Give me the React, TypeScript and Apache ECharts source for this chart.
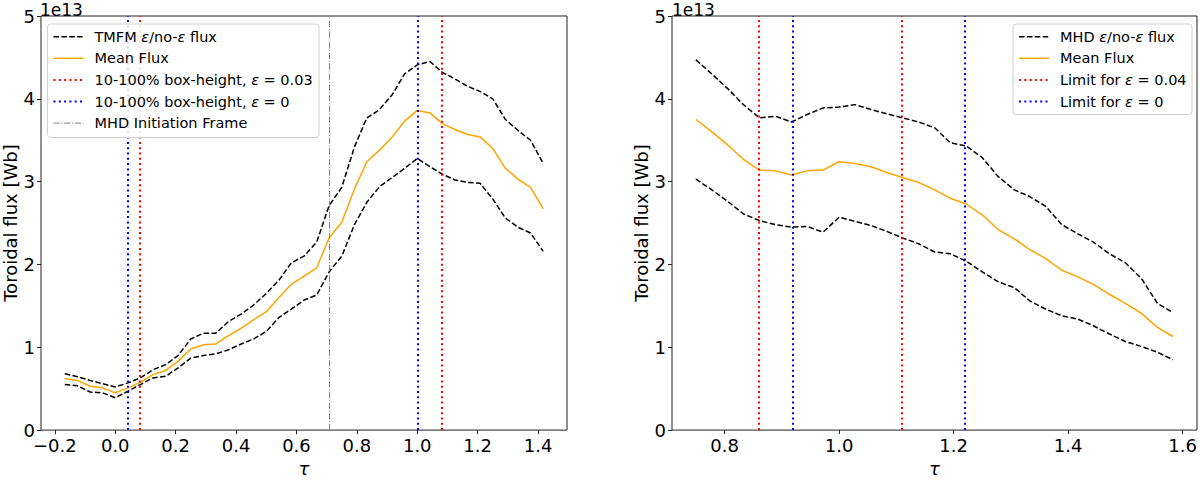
import React, { useEffect, useRef } from "react";
import * as echarts from "echarts";

// ---------- data (flux in units of 1e13 Wb) ----------
const tauLeft = [
  -0.167, -0.125, -0.083, -0.042, 0.0, 0.042, 0.083, 0.125, 0.167, 0.208, 0.25, 0.292, 0.333,
  0.375, 0.417, 0.458, 0.5, 0.542, 0.583, 0.625, 0.667, 0.708, 0.75, 0.792, 0.833, 0.875,
  0.917, 0.958, 1.0, 1.042, 1.083, 1.125, 1.167, 1.208, 1.25, 1.292, 1.333, 1.375, 1.417,
];
const upperLeft = [
  0.68, 0.645, 0.6, 0.56, 0.52, 0.57, 0.63, 0.73, 0.79, 0.9, 1.1, 1.17, 1.17, 1.31, 1.4, 1.51,
  1.65, 1.81, 2.02, 2.1, 2.27, 2.71, 2.93, 3.42, 3.77, 3.87, 4.05, 4.3, 4.41, 4.45, 4.32, 4.24,
  4.15, 4.09, 4.0, 3.75, 3.62, 3.5, 3.22,
];
const meanLeft = [
  0.62, 0.6, 0.53, 0.51, 0.45, 0.51, 0.58, 0.67, 0.72, 0.83, 0.98, 1.03, 1.04, 1.14, 1.23, 1.33,
  1.43, 1.6, 1.76, 1.86, 1.96, 2.32, 2.51, 2.91, 3.24, 3.38, 3.54, 3.73, 3.86, 3.83, 3.7, 3.63,
  3.57, 3.54, 3.4, 3.16, 3.03, 2.93, 2.67,
];
const lowerLeft = [
  0.55, 0.535, 0.46, 0.45, 0.39, 0.47, 0.55, 0.63, 0.65, 0.75, 0.87, 0.9, 0.92, 0.97, 1.04, 1.1,
  1.19, 1.36, 1.46, 1.57, 1.63, 1.91, 2.1, 2.48, 2.75, 2.94, 3.05, 3.16, 3.28, 3.18, 3.09, 3.02,
  2.99, 2.98, 2.79, 2.56, 2.45, 2.38, 2.16,
];

const tauRight = [
  0.75, 0.778, 0.806, 0.833, 0.861, 0.889, 0.917, 0.944, 0.972, 1.0, 1.028, 1.056, 1.083, 1.111,
  1.139, 1.167, 1.194, 1.222, 1.25, 1.278, 1.306, 1.333, 1.361, 1.389, 1.417, 1.444, 1.472, 1.5,
  1.528, 1.556, 1.583,
];
const upperRight = [
  4.47, 4.3, 4.12, 3.93, 3.77, 3.79, 3.72, 3.81, 3.89, 3.9, 3.93, 3.87, 3.82, 3.77, 3.72, 3.65,
  3.47, 3.43, 3.29, 3.06, 2.9, 2.82, 2.7, 2.48, 2.37, 2.27, 2.13, 2.02, 1.83, 1.53, 1.42,
];
const meanRight = [
  3.75, 3.6, 3.44, 3.27, 3.14, 3.13, 3.08, 3.13, 3.14, 3.24, 3.22, 3.18, 3.11, 3.05, 2.99, 2.9,
  2.8, 2.73, 2.6, 2.42, 2.31, 2.18, 2.07, 1.93, 1.85, 1.76, 1.64, 1.53, 1.41, 1.24, 1.13,
];
const lowerRight = [
  3.03, 2.9, 2.76, 2.61, 2.53, 2.48, 2.45, 2.46, 2.39, 2.57, 2.52, 2.47, 2.4, 2.32, 2.25, 2.15,
  2.13, 2.04, 1.91, 1.79, 1.72, 1.56, 1.46, 1.38, 1.34, 1.26, 1.16, 1.07, 1.01, 0.94, 0.85,
];

// vertical markers
const leftRedLimits = [0.0833, 1.0833];
const leftBlueLimits = [0.0417, 1.0];
const mhdInitiation = [0.7083];
const rightRedLimits = [0.8611, 1.1111];
const rightBlueLimits = [0.9167, 1.2222];

// ticks
const xTicksLeft = [-0.2, 0.0, 0.2, 0.4, 0.6, 0.8, 1.0, 1.2, 1.4];
const xTicksRight = [0.8, 1.0, 1.2, 1.4, 1.6];
const yTicks = [0, 1, 2, 3, 4, 5];

// ---------- styling ----------
const FONT = "DejaVu Sans";
const TICK_FS = 18;
const LEG_FS = 14.5;
const RED = "#ff0000";
const BLUE = "#0000ff";
const GRAY = "#808080";
const ORANGE = "#ffa500";
const DASH = [5.5, 2.4];
const DOT = [2, 3.3];
const DASHDOT = [6.4, 1.6, 1, 1.6];

const pts = (t: number[], v: number[]) => t.map((x, i) => [x, v[i]]);

const xAxisBase = (gridIndex: number, min: number, max: number, ticks: number[]) => ({
  type: "value",
  gridIndex,
  min,
  max,
  name: "τ",
  nameLocation: "middle",
  nameGap: 25,
  nameTextStyle: { fontFamily: FONT, fontSize: TICK_FS, fontStyle: "italic", color: "#000" },
  axisLine: { show: false, onZero: false },
  splitLine: { show: false },
  axisTick: {
    show: true,
    length: 4,
    customValues: ticks,
    lineStyle: { color: "#222", width: 1 },
  },
  axisLabel: {
    customValues: ticks,
    margin: 6,
    fontFamily: FONT,
    fontSize: TICK_FS,
    color: "#000",
    formatter: (v: number) => v.toFixed(1).replace("-", "\u2212"),
  },
});

const yAxisBase = (gridIndex: number) => ({
  type: "value",
  gridIndex,
  min: 0,
  max: 5,
  name: "Toroidal flux [Wb]",
  nameLocation: "middle",
  nameGap: 22,
  nameTextStyle: { fontFamily: FONT, fontSize: TICK_FS, color: "#000" },
  axisLine: { show: false, onZero: false },
  splitLine: { show: false },
  axisTick: { show: true, length: 4, customValues: yTicks, lineStyle: { color: "#222", width: 1 } },
  axisLabel: {
    customValues: yTicks,
    margin: 6,
    fontFamily: FONT,
    fontSize: TICK_FS,
    color: "#000",
    formatter: (v: number) => String(Math.round(v)),
  },
});

const lineSeries = (
  axis: number,
  data: number[][],
  color: string,
  type: any,
  markLines?: any[]
) => ({
  type: "line",
  xAxisIndex: axis,
  yAxisIndex: axis,
  data,
  symbol: "none",
  silent: true,
  lineStyle: { color, width: 1.5, type },
  markLine: markLines
    ? {
        silent: true,
        symbol: ["none", "none"],
        label: { show: false },
        data: markLines,
      }
    : undefined,
});

const vline = (x: number, color: string, dash: number[], width: number) => ({
  xAxis: x,
  lineStyle: { color, type: dash, width },
});

// ---------- legend (drawn with graphic) ----------
type Row = { color: string; dash: number[] | null; width: number; text: string };

const makeLegend = (x: number, y: number, w: number, h: number, rowY0: number, rowGap: number, rows: Row[]) => {
  const els: any[] = [
    {
      type: "rect",
      z: 100,
      shape: { x, y, width: w, height: h, r: 3 },
      style: { fill: "rgba(255,255,255,0.85)", stroke: "#d0d0d0", lineWidth: 1 },
    },
  ];
  rows.forEach((r, i) => {
    const cy = rowY0 + i * rowGap;
    els.push({
      type: "line",
      z: 101,
      shape: { x1: x + 6, y1: cy, x2: x + 36, y2: cy },
      style: { stroke: r.color, lineWidth: r.width, lineDash: r.dash || undefined },
    });
    els.push({
      type: "text",
      z: 101,
      style: {
        text: r.text,
        x: x + 47,
        y: cy,
        fill: "#000",
        fontSize: LEG_FS,
        fontFamily: FONT,
        verticalAlign: "middle",
        rich: {
          i: { fontStyle: "italic", fontSize: LEG_FS, fontFamily: FONT, fill: "#000" },
        },
      },
    });
  });
  return els;
};

const leftLegendRows: Row[] = [
  { color: "#000", dash: DASH, width: 1.5, text: "TMFM {i|ε}/no-{i|ε} flux" },
  { color: ORANGE, dash: null, width: 1.5, text: "Mean Flux" },
  { color: RED, dash: DOT, width: 2, text: "10-100% box-height, {i|ε} = 0.03" },
  { color: BLUE, dash: DOT, width: 2, text: "10-100% box-height, {i|ε} = 0" },
  { color: GRAY, dash: DASHDOT, width: 1, text: "MHD Initiation Frame" },
];
const rightLegendRows: Row[] = [
  { color: "#000", dash: DASH, width: 1.5, text: "MHD {i|ε}/no-{i|ε} flux" },
  { color: ORANGE, dash: null, width: 1.5, text: "Mean Flux" },
  { color: RED, dash: DOT, width: 2, text: "Limit for {i|ε} = 0.04" },
  { color: BLUE, dash: DOT, width: 2, text: "Limit for {i|ε} = 0" },
];

const option: any = {
  animation: false,
  textStyle: { fontFamily: FONT },
  grid: [
    { left: 40, top: 16, width: 527, height: 424, show: true, borderColor: "#222", borderWidth: 1, backgroundColor: "transparent" },
    { left: 672, top: 16, width: 527, height: 424, show: true, borderColor: "#222", borderWidth: 1, backgroundColor: "transparent" },
  ],
  xAxis: [
    xAxisBase(0, -0.2458, 1.4958, xTicksLeft),
    xAxisBase(1, 0.7083, 1.625, xTicksRight),
  ],
  yAxis: [yAxisBase(0), yAxisBase(1)],
  series: [
    lineSeries(0, pts(tauLeft, upperLeft), "#000", DASH),
    lineSeries(0, pts(tauLeft, lowerLeft), "#000", DASH),
    lineSeries(0, pts(tauLeft, meanLeft), ORANGE, "solid", [
      ...leftRedLimits.map((x) => vline(x, RED, DOT, 2)),
      ...leftBlueLimits.map((x) => vline(x, BLUE, DOT, 2)),
      ...mhdInitiation.map((x) => vline(x, GRAY, DASHDOT, 1)),
    ]),
    lineSeries(1, pts(tauRight, upperRight), "#000", DASH),
    lineSeries(1, pts(tauRight, lowerRight), "#000", DASH),
    lineSeries(1, pts(tauRight, meanRight), ORANGE, "solid", [
      ...rightRedLimits.map((x) => vline(x, RED, DOT, 2)),
      ...rightBlueLimits.map((x) => vline(x, BLUE, DOT, 2)),
    ]),
  ],
  graphic: [
    ...makeLegend(47.5, 24, 271.5, 113.5, 36.7, 21.6, leftLegendRows),
    ...makeLegend(1013, 24, 179, 90.5, 36.7, 21.6, rightLegendRows),
    {
      type: "text",
      z: 100,
      style: { text: "1e13", x: 40, y: 1, fontSize: 17, fontFamily: FONT, fill: "#000", verticalAlign: "top" },
    },
    {
      type: "text",
      z: 100,
      style: { text: "1e13", x: 672, y: 1, fontSize: 17, fontFamily: FONT, fill: "#000", verticalAlign: "top" },
    },
  ],
};

export default function App() {
  const ref = useRef<HTMLDivElement>(null);
  useEffect(() => {
    if (!ref.current) return;
    const chart = echarts.init(ref.current, null, { renderer: "svg" });
    chart.setOption(option);
    return () => chart.dispose();
  }, []);
  return (
    <div
      ref={ref}
      style={{ position: "absolute", left: 0, top: 0, width: 1200, height: 482, background: "#fff" }}
    />
  );
}
